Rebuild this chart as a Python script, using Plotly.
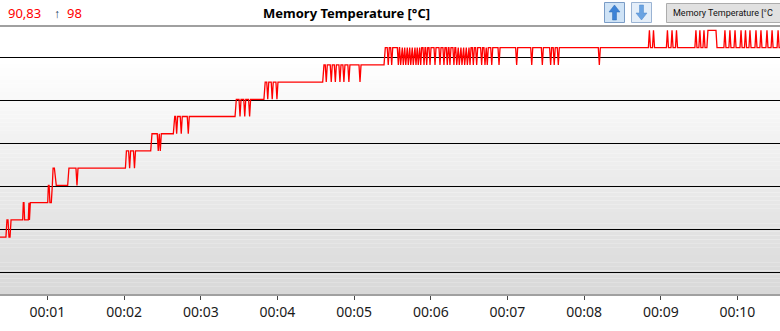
import plotly.graph_objects as go

# ---------------- data (time in seconds since start, memory temperature in °C) ----------------
warmup_t = [20, 27.5, 28.3, 29.1, 29.9, 30.7, 31.5,
            40.6, 41.1, 41.6, 42.1, 45.0, 45.5, 45.9, 46.6,
            60.2, 60.7, 61.3, 61.9, 63.0, 63.8, 64.4, 65.4, 66.9,
            75.8, 76.8, 82.3, 83.1, 83.9,
            121.0, 121.8, 123.5, 124.3, 125.1, 127.3, 128.1, 128.9,
            140.8, 141.8, 145.9, 146.7, 147.5, 148.3, 149.1,
            158.5, 159.6, 160.3, 161.1, 161.9, 163.9, 164.7, 165.5, 169.4, 170.2, 171.0]
warmup_c = [86, 86, 87, 87, 86, 86, 87,
            87, 88, 88, 87, 87, 88, 87, 88,
            88, 89, 89, 88, 88, 89, 90, 90, 89,
            89, 90, 90, 89, 90,
            90, 91, 91, 90, 91, 91, 90, 91,
            91, 92, 92, 91, 92, 91, 92,
            92, 93, 93, 92, 93, 93, 92, 93, 93, 92, 93]

climb_t = [206.8, 207.8, 209.9, 210.7, 211.5, 213.6, 214.4, 215.2, 217.4, 218.2, 219.0,
           229.4, 230.4, 231.6, 232.4, 233.2, 235.1, 235.9, 236.7, 238.8, 239.6, 240.4,
           275.4, 276.4, 277.4, 278.2, 279.0, 281.3, 282.1, 282.9, 284.5, 285.3, 286.1,
           288.1, 288.9, 289.7, 291.2, 292.0, 292.8, 295.1, 295.9, 296.7, 303.8, 304.6, 305.4,
           323.4, 324.4]
climb_c = [93, 94, 94, 93, 94, 94, 93, 94, 94, 93, 94,
           94, 95, 95, 94, 95, 95, 94, 95, 95, 94, 95,
           95, 96, 96, 95, 96, 96, 95, 96, 96, 95, 96,
           96, 95, 96, 96, 95, 96, 96, 95, 96, 96, 95, 96,
           96, 97]

# moments where the 97 °C reading briefly dropped to 96 °C
dip_times = [326.7, 329.4, 334.6, 336.4, 338.5, 340.4, 342.4, 344.3, 346.3, 348.4, 350.2,
             352.1, 354.7, 356.8, 359.4, 363.3, 367.2, 370.3, 372.9, 375.0, 378.1, 380.3,
             382.3, 384.4, 386.5, 388.6, 390.7, 393.3, 395.9, 399.8, 402.4, 404.2, 407.7,
             413.4, 427.2, 439.0, 447.3, 453.8, 456.6, 459.8, 491.9]
# moments where the reading briefly touched the 98 °C maximum
peak_times = [531.1, 534.3, 545.2, 548.8, 552.3, 567.5, 570.6, 573.8, 576.9, 583.2,
              590.2, 594.1, 598.1, 602.8, 606.3, 609.8, 614.5, 618.4, 623.1, 627.1, 631.8]
plateau_c = 97
current_c = "90,83"
max_c = "98"

tick_secs = [60, 120, 180, 240, 300, 360, 420, 480, 540, 600]
tick_text = ["00:01", "00:02", "00:03", "00:04", "00:05", "00:06", "00:07", "00:08", "00:09", "00:10"]
grid_c = [83.95, 86.45, 88.95, 91.45, 93.95, 96.45]

# ---------------- build plateau section polyline from the readings ----------------
plateau_t, plateau_v = [], []
HW = 0.8
for t in dip_times:
    plateau_t += [t - HW, t, t + HW]
    plateau_v += [plateau_c, plateau_c - 1, plateau_c]
flat_top = (576.9, 583.2)
for t in peak_times:
    if t == flat_top[0]:
        plateau_t += [t - HW, t]
        plateau_v += [plateau_c, plateau_c + 1]
    elif t == flat_top[1]:
        plateau_t += [t, t + HW]
        plateau_v += [plateau_c + 1, plateau_c]
    else:
        plateau_t += [t - HW, t, t + HW]
        plateau_v += [plateau_c, plateau_c + 1, plateau_c]
plateau_t += [640]
plateau_v += [plateau_c]

xs = warmup_t + climb_t + plateau_t
ys = warmup_c + climb_c + plateau_v

fig = go.Figure()
fig.add_trace(go.Scatter(x=xs, y=ys, mode="lines",
                         line=dict(color="#ff0000", width=1.3), hoverinfo="skip"))

W, H = 780, 331
TOP, BOT = 27, 294


def px(x):
    return x / W


def py(y):
    return (BOT - y) / (BOT - TOP)


shapes = []
# vertical gradient background of the plot area
y0 = 60
steps = 60
for i in range(steps):
    ya = y0 + (BOT - y0) * i / steps
    yb = y0 + (BOT - y0) * (i + 1) / steps
    f = (i + 0.5) / steps
    g = int(round(255 - (255 - 216) * f))
    shapes.append(dict(type="rect", xref="paper", yref="paper", x0=0, x1=1,
                       y0=py(yb), y1=py(ya), fillcolor=f"rgb({g},{g},{g})",
                       line=dict(width=0), layer="below"))

# header buttons
def button(x0, x1, y0_, y1_, fill, border):
    shapes.append(dict(type="rect", xref="paper", yref="paper",
                       x0=px(x0), x1=px(x1), y0=py(y1_), y1=py(y0_),
                       fillcolor=fill, line=dict(color=border, width=1)))

button(604.5, 624.5, 2.5, 22.5, "#cfe3f6", "#7a9cc6")
button(631.5, 651.5, 2.5, 22.5, "#e4eef9", "#9ab3d3")
button(666.5, 790, 3.5, 22.5, "#e1e1e1", "#adadad")


def arrow_path(cx, top, bottom, up=True):
    hw, sw = 5.5, 2
    if up:
        pts = [(cx, top), (cx + hw, top + 7), (cx + sw, top + 7), (cx + sw, bottom),
               (cx - sw, bottom), (cx - sw, top + 7), (cx - hw, top + 7)]
    else:
        pts = [(cx, bottom), (cx + hw, bottom - 7), (cx + sw, bottom - 7), (cx + sw, top),
               (cx - sw, top), (cx - sw, bottom - 7), (cx - hw, bottom - 7)]
    d = "M " + " L ".join(f"{px(a):.5f},{py(b):.5f}" for a, b in pts) + " Z"
    return d

shapes.append(dict(type="path", xref="paper", yref="paper", path=arrow_path(614.5, 5, 20, True),
                   fillcolor="#3d83d6", line=dict(color="#2f6cb5", width=0.5)))
shapes.append(dict(type="path", xref="paper", yref="paper", path=arrow_path(641.5, 5, 20, False),
                   fillcolor="#6aa3e2", line=dict(color="#4f88cc", width=0.5)))

annotations = [
    dict(text=current_c, x=px(6), y=py(13), xanchor="left", yanchor="middle",
         font=dict(family="Noto Sans", size=13, color="#ff0000")),
    dict(text="↑", x=px(52), y=py(13), xanchor="left", yanchor="middle",
         font=dict(family="Noto Sans", size=12, color="#203b5e")),
    dict(text=max_c, x=px(65), y=py(13), xanchor="left", yanchor="middle",
         font=dict(family="Noto Sans", size=13, color="#ff0000")),
    dict(text="<b>Memory Temperature [°C]</b>", x=px(346), y=py(13), xanchor="center",
         yanchor="middle", font=dict(family="Noto Sans", size=13, color="#000000")),
    dict(text="Memory Temperature [°C", x=px(671), y=py(13), xanchor="left", yanchor="middle",
         font=dict(family="Roboto", size=9, color="#111111")),
]
for a in annotations:
    a.update(xref="paper", yref="paper", showarrow=False)

fig.update_layout(
    width=W, height=H,
    margin=dict(l=0, r=0, t=TOP, b=H - BOT, pad=0),
    paper_bgcolor="#ffffff", plot_bgcolor="#ffffff",
    showlegend=False,
    shapes=shapes, annotations=annotations,
    xaxis=dict(range=[22.85, 633.3], tickvals=tick_secs, ticktext=tick_text,
               ticks="outside", ticklen=4, tickcolor="#444444", tickwidth=1,
               showgrid=False, zeroline=False, showline=True, linecolor="#a0a0a0",
               linewidth=2, mirror=True,
               tickfont=dict(family="Noto Sans", size=14, color="#1a1a1a")),
    yaxis=dict(range=[82.697, 98.197], tickvals=grid_c, showticklabels=False,
               showgrid=True, gridcolor="#000000", gridwidth=1, zeroline=False,
               showline=False, ticks=""),
)

fig.write_html("out.html", config={"displayModeBar": False},
               post_script="document.body.style.margin='0';document.body.style.overflow='hidden';")
